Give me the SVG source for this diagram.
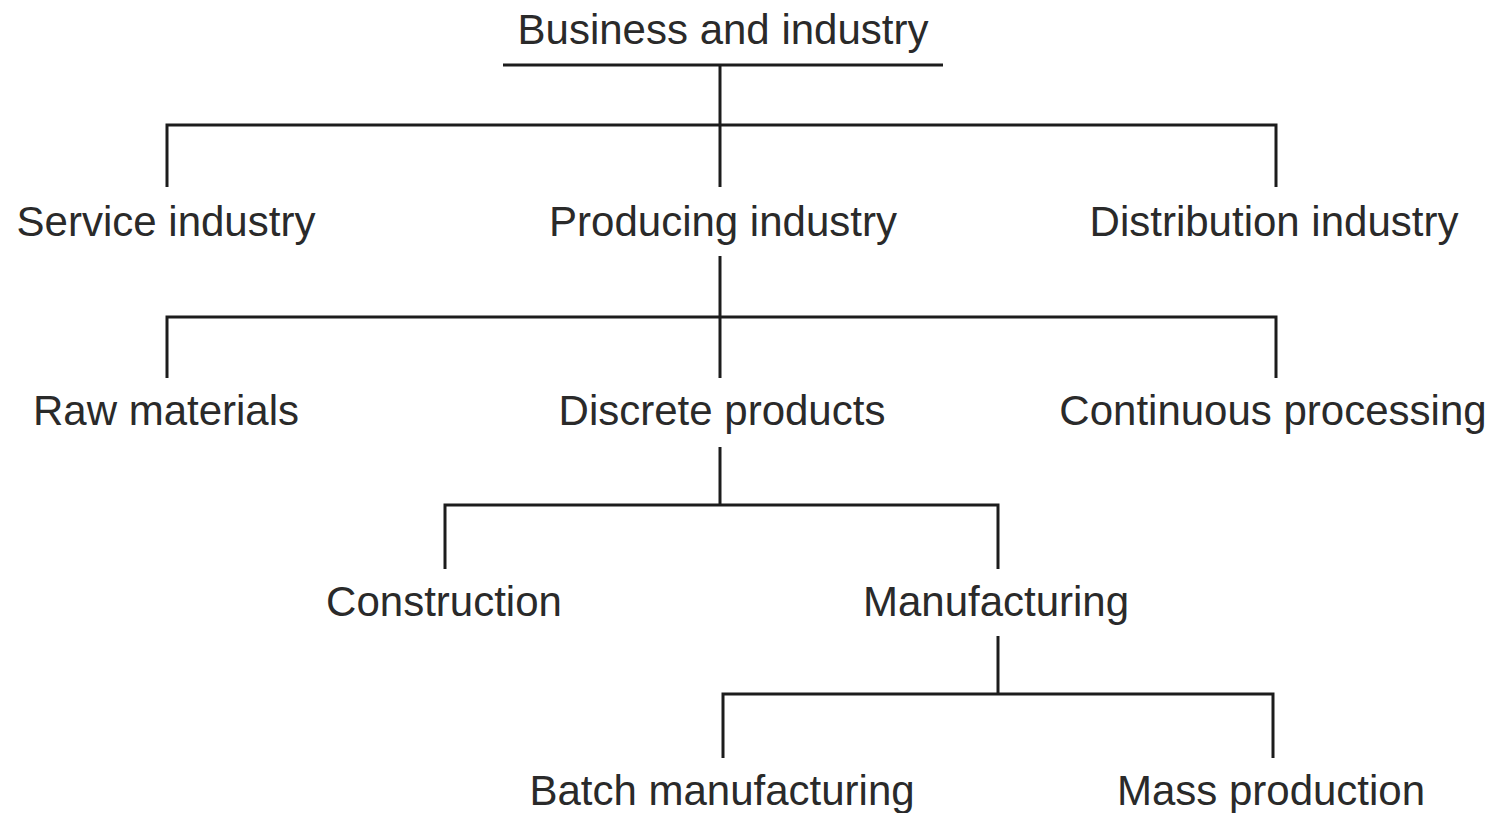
<svg xmlns="http://www.w3.org/2000/svg" width="1499" height="813" viewBox="0 0 1499 813">
<style>
.t{font-family:"Liberation Sans",Arial,Helvetica,sans-serif;font-size:42px;fill:#2a2a2a;text-anchor:middle}
.c{stroke:#1c1c1c;stroke-width:3;fill:none;stroke-linecap:butt}
</style>
<rect width="1499" height="813" fill="#ffffff"/>
<g id="connectors" class="c">
<line x1="503" y1="65" x2="943" y2="65"/>
<polyline points="720,65 720,187"/>
<polyline points="167,187 167,125 1276,125 1276,187"/>
<polyline points="720,256 720,378"/>
<polyline points="167,378 167,317 1276,317 1276,378"/>
<polyline points="720,447 720,505"/>
<polyline points="445,569 445,505 998,505 998,569"/>
<polyline points="998,636 998,694"/>
<polyline points="723,758 723,694 1273,694 1273,758"/>
</g>
<g id="n-business"><text class="t" x="723" y="44">Business and industry</text></g>
<g id="n-service"><text class="t" x="166" y="236">Service industry</text></g>
<g id="n-producing"><text class="t" x="723" y="236">Producing industry</text></g>
<g id="n-distribution"><text class="t" x="1274" y="236">Distribution industry</text></g>
<g id="n-raw"><text class="t" x="166" y="425">Raw materials</text></g>
<g id="n-discrete"><text class="t" x="722" y="425">Discrete products</text></g>
<g id="n-continuous"><text class="t" x="1273" y="425">Continuous processing</text></g>
<g id="n-construction"><text class="t" x="444" y="616">Construction</text></g>
<g id="n-manufacturing"><text class="t" x="996" y="616">Manufacturing</text></g>
<g id="n-batch"><text class="t" x="722" y="805">Batch manufacturing</text></g>
<g id="n-mass"><text class="t" x="1271" y="805">Mass production</text></g>
</svg>
